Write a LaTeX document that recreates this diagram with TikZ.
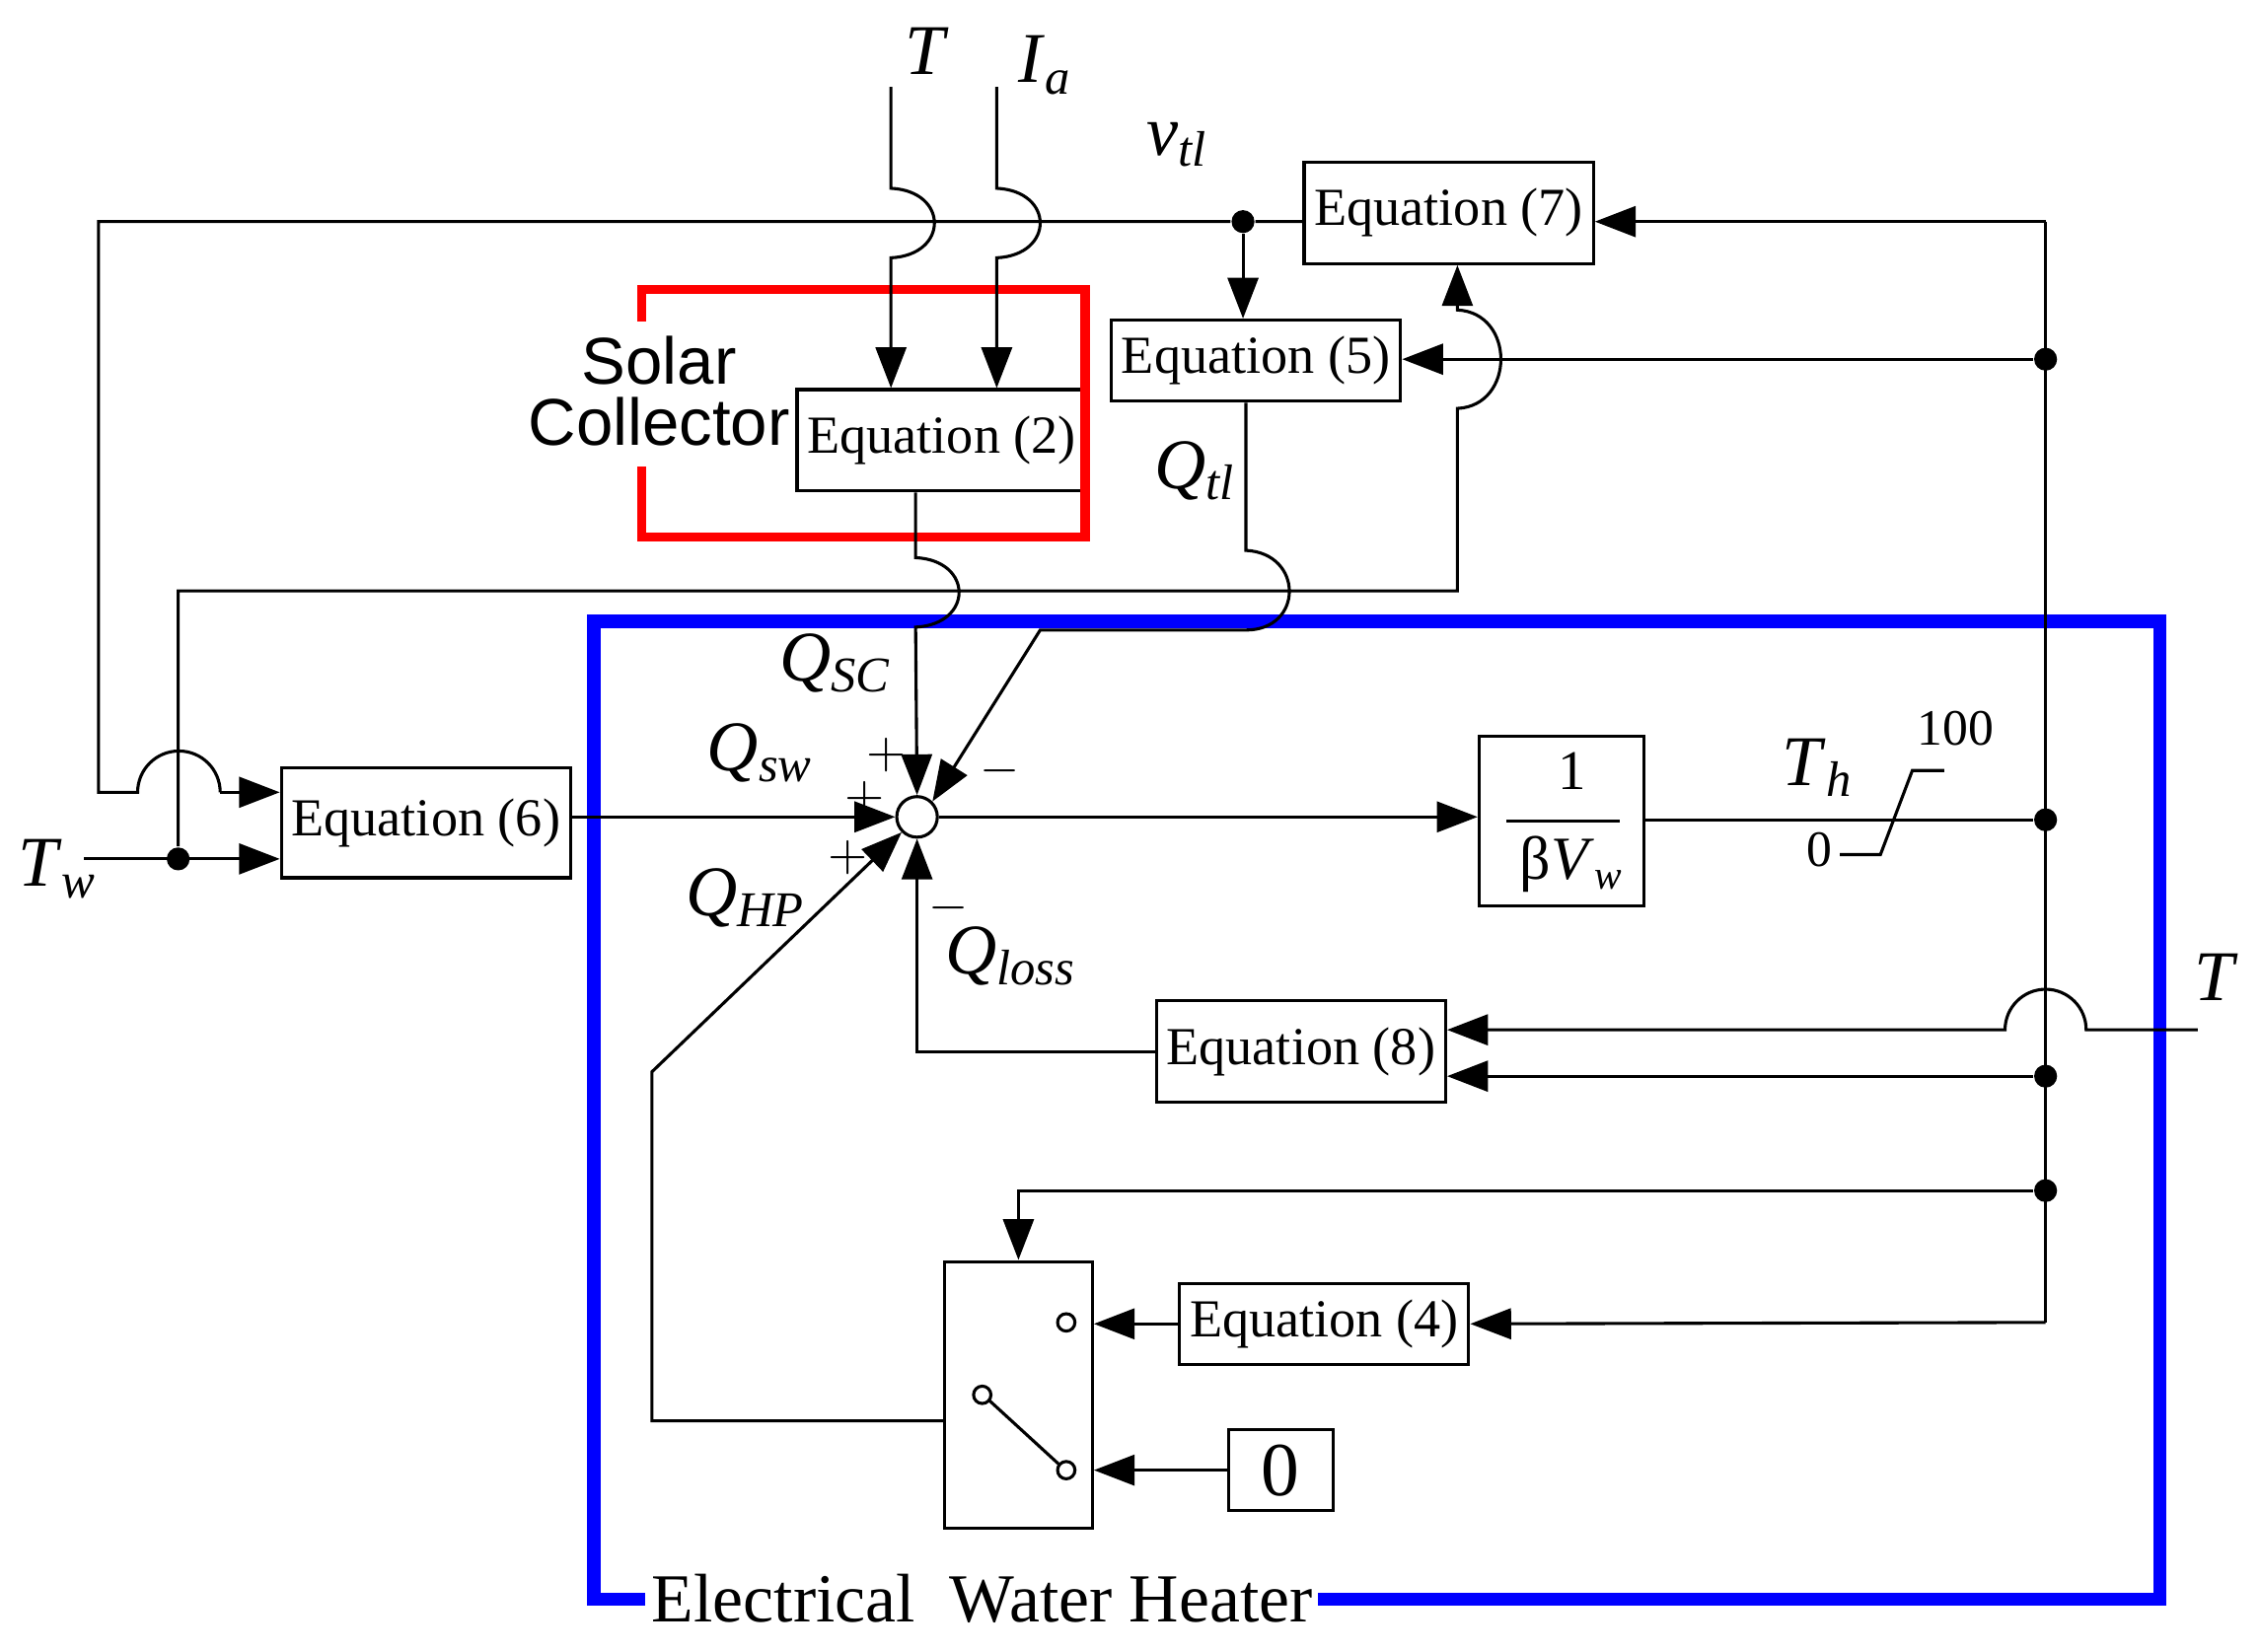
\documentclass[tikz,border=0pt]{standalone}
\usepackage{fontspec}
\setmainfont{Liberation Serif}
\newfontfamily\sansf{Liberation Sans}
\usetikzlibrary{arrows.meta}
\newcommand{\vi}[2]{\textit{#1}\textsubscript{\textit{#2}}}
\begin{document}
\begin{tikzpicture}[x=0.01cm,y=-0.01cm,
  blk/.style={draw,line width=0.6pt,minimum height=0.56cm,inner sep=2pt,font=\fontsize{10.5}{12}\selectfont},
  ln/.style={line width=0.6pt},
  ar/.style={ln,-{Triangle[length=8pt,width=6pt]}},
  dot/.style={circle,fill,inner sep=0pt,minimum size=4.5pt},
  lab/.style={font=\fontsize{14}{16}\selectfont},
  sg/.style={font=\fontsize{10}{12}\selectfont,inner sep=0.5pt}]
\useasboundingbox (0,0) rectangle (1560,1140);
% boxes
\node[blk,minimum width=1.93cm,minimum height=0.7cm] (e7) at (1000,147) {Equation (7)};
\node[blk,minimum width=1.9cm] (e5) at (867,249) {Equation (5)};
\node[blk,minimum width=1.88cm,minimum height=0.7cm] (e2) at (650,304) {Equation (2)};
\node[blk,minimum width=1.93cm,minimum height=0.76cm] (e6) at (294,568) {Equation (6)};
\node[blk,minimum width=1.98cm,minimum height=0.7cm] (e8) at (898,726) {Equation (8)};
\node[blk,minimum width=1.93cm] (e4) at (914,914) {Equation (4)};
\node[blk,minimum width=0.72cm,font=\fontsize{15}{17}\selectfont] (z) at (884,1015) {0};
\node[draw,line width=0.6pt,minimum width=1.14cm,minimum height=1.17cm] (g) at (1078,567) {};
\node[font=\fontsize{11}{13}\selectfont] at (1085,532) {1};
\draw[ln] (1040,567) -- (1118,567);
\node[font=\fontsize{12}{14}\selectfont] at (1085,597) {β\vi{V}{w}};
\node[draw,line width=0.6pt,minimum width=1.02cm,minimum height=1.84cm] (sw) at (703,963) {};
\node[circle,draw,line width=0.6pt,minimum size=0.28cm,inner sep=0pt] (s) at (633,564) {};
% switch internals
\draw[ln] (736,913) circle (6);
\draw[ln] (736,1015) circle (6);
\draw[ln] (678,963) circle (6);
\draw[ln] (683,967) -- (731,1011);
% red and blue frames
\draw[red,line width=1.8pt] (443,222) -- (443,200) -- (749,200) -- (749,371) -- (443,371) -- (443,322);
\node[font=\sansf\fontsize{13}{15}\selectfont,align=center] at (455,270) {Solar\\[-3pt]Collector};
\draw[blue,line width=2.6pt] (445,1104) -- (410,1104) -- (410,429) -- (1491,429) -- (1491,1104) -- (910,1104);
\node[font=\fontsize{13.5}{16}\selectfont] at (678,1104) {Electrical\ \ Water Heater};
% dots
\coordinate (b0) at (1412,153);
\node[dot] (d1) at (1412,248) {};
\node[dot] (d2) at (1412,566) {};
\node[dot] (d3) at (1412,743) {};
\node[dot] (d4) at (1412,822) {};
\coordinate (b5) at (1412,913);
\node[dot] (dv) at (858,153) {};
\node[dot] (dt) at (123,593) {};
\draw[ln] (b0) -- (b5);
% top line
\draw[ar] (b0) -- (e7.east|-b0);
\draw[ln] (e7.west|-dv) -- (dv) -- (68,153) -- (68,547) -- (95,547) arc (180:360:28.5) -- (152,547);
\draw[ar] (152,547) -- (e6.west|-0,547);
\draw[ar] (dv) -- (e5.north-|dv);
\draw[ar] (d1) -- (e5.east|-d1);
% feedback from Tw to Eq7
\draw[ar] (dt) -- (123,408) -- (1006,408) -- (1006,282) .. controls (1046,280) and (1046,216) .. (1006,214) -- (e7.south-|1006,0);
% T and Ia inputs
\coordinate (tin) at (615,60); \coordinate (iin) at (688,60);
\draw[ar] (tin) -- (615,130) .. controls (655,132) and (655,176) .. (615,178) -- (e2.north-|tin);
\draw[ar] (iin) -- (688,130) .. controls (728,132) and (728,176) .. (688,178) -- (e2.north-|iin);
\node[lab] at (640,35) {\textit{T}};
\node[lab] at (722,45) {\vi{I}{a}};
\node[lab] at (813,100) {\vi{v}{tl}};
% Qsc
\draw[ar] (e2.south-|632,0) -- (632,385) .. controls (672,387) and (672,431) .. (632,433) -- (s.north);
\node[lab] at (577,458) {\vi{Q}{SC}};
\node[sg] at (612,521) {$+$};
% Qtl
\draw[ar] (e5.south-|860,0) -- (860,380) .. controls (900,382) and (900,435) .. (860,435) -- (718,435) -- (s.north east);
\node[lab] at (825,325) {\vi{Q}{tl}};
\node[sg] at (690,532) {$-$};
% Qsw
\draw[ar] (e6.east|-s) -- (s.west);
\node[lab] at (525,520) {\vi{Q}{sw}};
\node[sg] at (597,551) {$+$};
% forward path
\draw[ar] (s.east) -- (g.west|-s);
\draw[ln] (g.east|-d2) -- (d2);
\draw[ln] (1270,590) -- (1298,590) -- (1320,532) -- (1342,532);
\node[sg] at (1350,503) {100};
\node[sg] at (1256,587) {0};
\node[lab] at (1255,530) {\vi{T}{h}};
% QHP
\draw[ar] (sw.west|-0,981) -- (450,981) -- (450,740) -- (s.south west);
\node[lab] at (515,620) {\vi{Q}{HP}};
\node[sg] at (585,592) {$+$};
% Qloss
\draw[ar] (e8.west) -- (633,726) -- (s.south);
\node[lab] at (698,660) {\vi{Q}{loss}};
\node[sg] at (655,627) {$-$};
% T right
\coordinate (tr) at (1517,711);
\draw[ar] (tr) -- (1440,711) arc (0:-180:28) -- (e8.east|-tr);
\node[lab] at (1530,675) {\textit{T}};
\draw[ar] (d3) -- (e8.east|-d3);
\draw[ar] (d4) -- (703,822) -- (sw.north);
\draw[ar] (b5) -- (e4.east);
\draw[ar] (e4.west) -- (sw.east|-e4);
\draw[ar] (z.west) -- (sw.east|-z);
% Tw
\coordinate (tw) at (58,593);
\draw[ar] (tw) -- (e6.west|-tw);
\node[lab] at (40,600) {\vi{T}{w}};
\end{tikzpicture}
\end{document}
